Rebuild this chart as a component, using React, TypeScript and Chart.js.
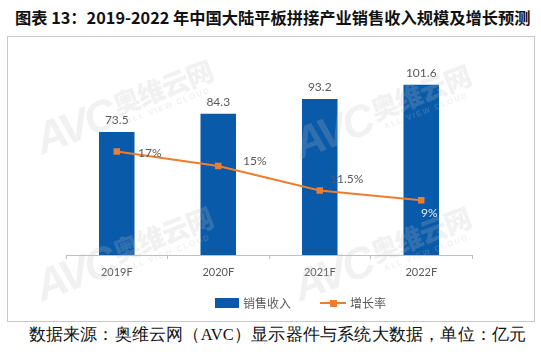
import React, { useEffect, useRef } from "react";
import { Chart, registerables } from "chart.js";

Chart.register(...registerables);

const titleText = "图表 13：2019-2022 年中国大陆平板拼接产业销售收入规模及增长预测";
const sourceText = "数据来源：奥维云网（AVC）显示器件与系统大数据，单位：亿元";
const categories = ["2019F", "2020F", "2021F", "2022F"];
const revenue = [73.5, 84.3, 93.2, 101.6];
const revenueLabels = ["73.5", "84.3", "93.2", "101.6"];
const growthRate = [17, 14.6, 10.6, 9];
const growthLabels = ["17%", "15%", "11.5%", "9%"];
const revenueName = "销售收入";
const rateName = "增长率";

const BLUE = "#0A5AAA";
const ORANGE = "#ED7D31";
const GRAY_TEXT = "#595959";
const LABEL_FONT = "Lato, 'Liberation Sans', sans-serif";

// label placement relative to each growth point (style, not data)
const rateLabelOffset: [number, number][] = [
  [33, 1.5],
  [36.5, -5],
  [27, -11],
  [8, 12.5],
];
const rateLabelColor = [GRAY_TEXT, GRAY_TEXT, GRAY_TEXT, "#E3EBF5"];

const labelPlugin = {
  id: "valueLabels",
  afterDatasetsDraw(chart: any) {
    const ctx = chart.ctx;
    ctx.save();
    ctx.font = `12px ${LABEL_FONT}`;
    ctx.textAlign = "center";
    ctx.textBaseline = "middle";
    const barMeta = chart.getDatasetMeta(0);
    barMeta.data.forEach((el: any, i: number) => {
      ctx.fillStyle = GRAY_TEXT;
      ctx.fillText(revenueLabels[i], el.x, el.y - 12);
    });
    const lineMeta = chart.getDatasetMeta(1);
    lineMeta.data.forEach((el: any, i: number) => {
      const [dx, dy] = rateLabelOffset[i];
      ctx.fillStyle = rateLabelColor[i];
      ctx.fillText(growthLabels[i], el.x + dx, el.y + dy);
    });
    ctx.restore();
  },
};

function Watermark({ left, top }: { left: number; top: number }) {
  const c = "rgba(190,190,190,0.22)";
  return (
    <div
      style={{
        position: "absolute",
        left,
        top,
        width: 200,
        height: 60,
        transform: "rotate(-21deg)",
        transformOrigin: "center center",
        display: "flex",
        alignItems: "center",
        pointerEvents: "none",
        color: c,
        zIndex: 3,
      }}
    >
      <div
        style={{
          fontFamily: "'Liberation Sans', Arial, sans-serif",
          fontWeight: 900,
          fontStyle: "italic",
          fontSize: 44,
          letterSpacing: -3,
          lineHeight: "44px",
        }}
      >
        AVC
      </div>
      <div style={{ marginLeft: 4, display: "flex", flexDirection: "column", alignItems: "flex-start" }}>
        <div
          style={{
            fontFamily: "'Noto Sans CJK SC', sans-serif",
            fontWeight: 900,
            fontSize: 27,
            lineHeight: "30px",
            letterSpacing: -1,
          }}
        >
          奥维云网
        </div>
        <div
          style={{
            fontFamily: "'Liberation Sans', Arial, sans-serif",
            fontWeight: 700,
            fontSize: 8,
            letterSpacing: 1.5,
            lineHeight: "10px",
            marginLeft: 6,
          }}
        >
          ALL VIEW CLOUD
        </div>
      </div>
    </div>
  );
}

export default function App() {
  const canvasRef = useRef<HTMLCanvasElement | null>(null);

  useEffect(() => {
    if (!canvasRef.current) return;
    const chart = new Chart(canvasRef.current, {
      type: "bar",
      data: {
        labels: categories,
        datasets: [
          {
            type: "bar",
            label: revenueName,
            data: revenue,
            backgroundColor: BLUE,
            borderWidth: 0,
            barPercentage: 0.35,
            categoryPercentage: 1,
            yAxisID: "y",
            order: 2,
          },
          {
            type: "line",
            label: rateName,
            data: growthRate,
            borderColor: ORANGE,
            backgroundColor: ORANGE,
            borderWidth: 2,
            pointStyle: "rect",
            pointRadius: 4.6,
            pointBackgroundColor: ORANGE,
            pointBorderWidth: 0,
            tension: 0,
            yAxisID: "y1",
            order: 1,
          },
        ] as any,
      },
      options: {
        responsive: false,
        animation: false,
        devicePixelRatio: 1,
        layout: { padding: { left: 66, right: 69, top: 54, bottom: 74 } },
        plugins: {
          legend: { display: false },
          tooltip: { enabled: false },
          title: { display: false },
        },
        scales: {
          x: {
            afterFit: (scale: any) => {
              scale.height = 30;
            },
            grid: {
              display: true,
              offset: true,
              drawOnChartArea: false,
              drawTicks: true,
              tickLength: 4,
              color: "#BFBFBF",
            },
            border: { display: true, color: "#BFBFBF", width: 1 },
            ticks: {
              padding: 7,
              color: GRAY_TEXT,
              font: { family: LABEL_FONT, size: 11 },
            },
          },
          y: { display: false, min: 0, max: 120 },
          y1: { display: false, min: 0, max: 33, position: "right" },
        },
      } as any,
      plugins: [labelPlugin],
    });
    return () => chart.destroy();
  }, []);

  return (
    <div style={{ position: "absolute", left: 0, top: 0, width: 541, height: 359, background: "#fff", overflow: "hidden" }}>
      <div
        style={{
          position: "absolute",
          left: 15,
          top: 6,
          fontFamily: "'Noto Sans CJK SC', sans-serif",
          fontWeight: 700,
          fontSize: 16.25,
          lineHeight: "22px",
          color: "#111",
          whiteSpace: "nowrap",
        }}
      >
        {titleText}
      </div>
      <div
        style={{
          position: "absolute",
          left: 7,
          top: 36,
          width: 526,
          height: 284,
          border: "1px solid #C8C8C8",
        }}
      />
      <canvas
        ref={canvasRef}
        width={541}
        height={359}
        style={{ position: "absolute", left: 0, top: 0, width: 541, height: 359, zIndex: 1 }}
      />
      <Watermark left={30} top={75} />
      <Watermark left={288} top={80} />
      <Watermark left={30} top={222} />
      <Watermark left={288} top={222} />
      <div
        style={{
          position: "absolute",
          left: 0,
          top: 295,
          width: 541,
          display: "flex",
          alignItems: "center",
          fontFamily: "'Noto Sans CJK SC', sans-serif",
          fontSize: 12,
          lineHeight: "16px",
          color: GRAY_TEXT,
          zIndex: 2,
        }}
      >
        <div style={{ position: "absolute", left: 215, top: 3, width: 24, height: 10, background: BLUE }} />
        <div style={{ position: "absolute", left: 243, top: 0 }}>{revenueName}</div>
        <div style={{ position: "absolute", left: 320, top: 7, width: 26, height: 2, background: ORANGE }} />
        <div style={{ position: "absolute", left: 330, top: 5, width: 6.5, height: 6.5, background: ORANGE }} />
        <div style={{ position: "absolute", left: 350, top: 0 }}>{rateName}</div>
      </div>
      <div
        style={{
          position: "absolute",
          left: 0,
          top: 325,
          width: 555,
          textAlign: "center",
          fontFamily: "serif",
          fontSize: 16.5,
          letterSpacing: 0.2,
          lineHeight: "20px",
          color: "#111",
          whiteSpace: "nowrap",
        }}
      >
        {sourceText}
      </div>
    </div>
  );
}
